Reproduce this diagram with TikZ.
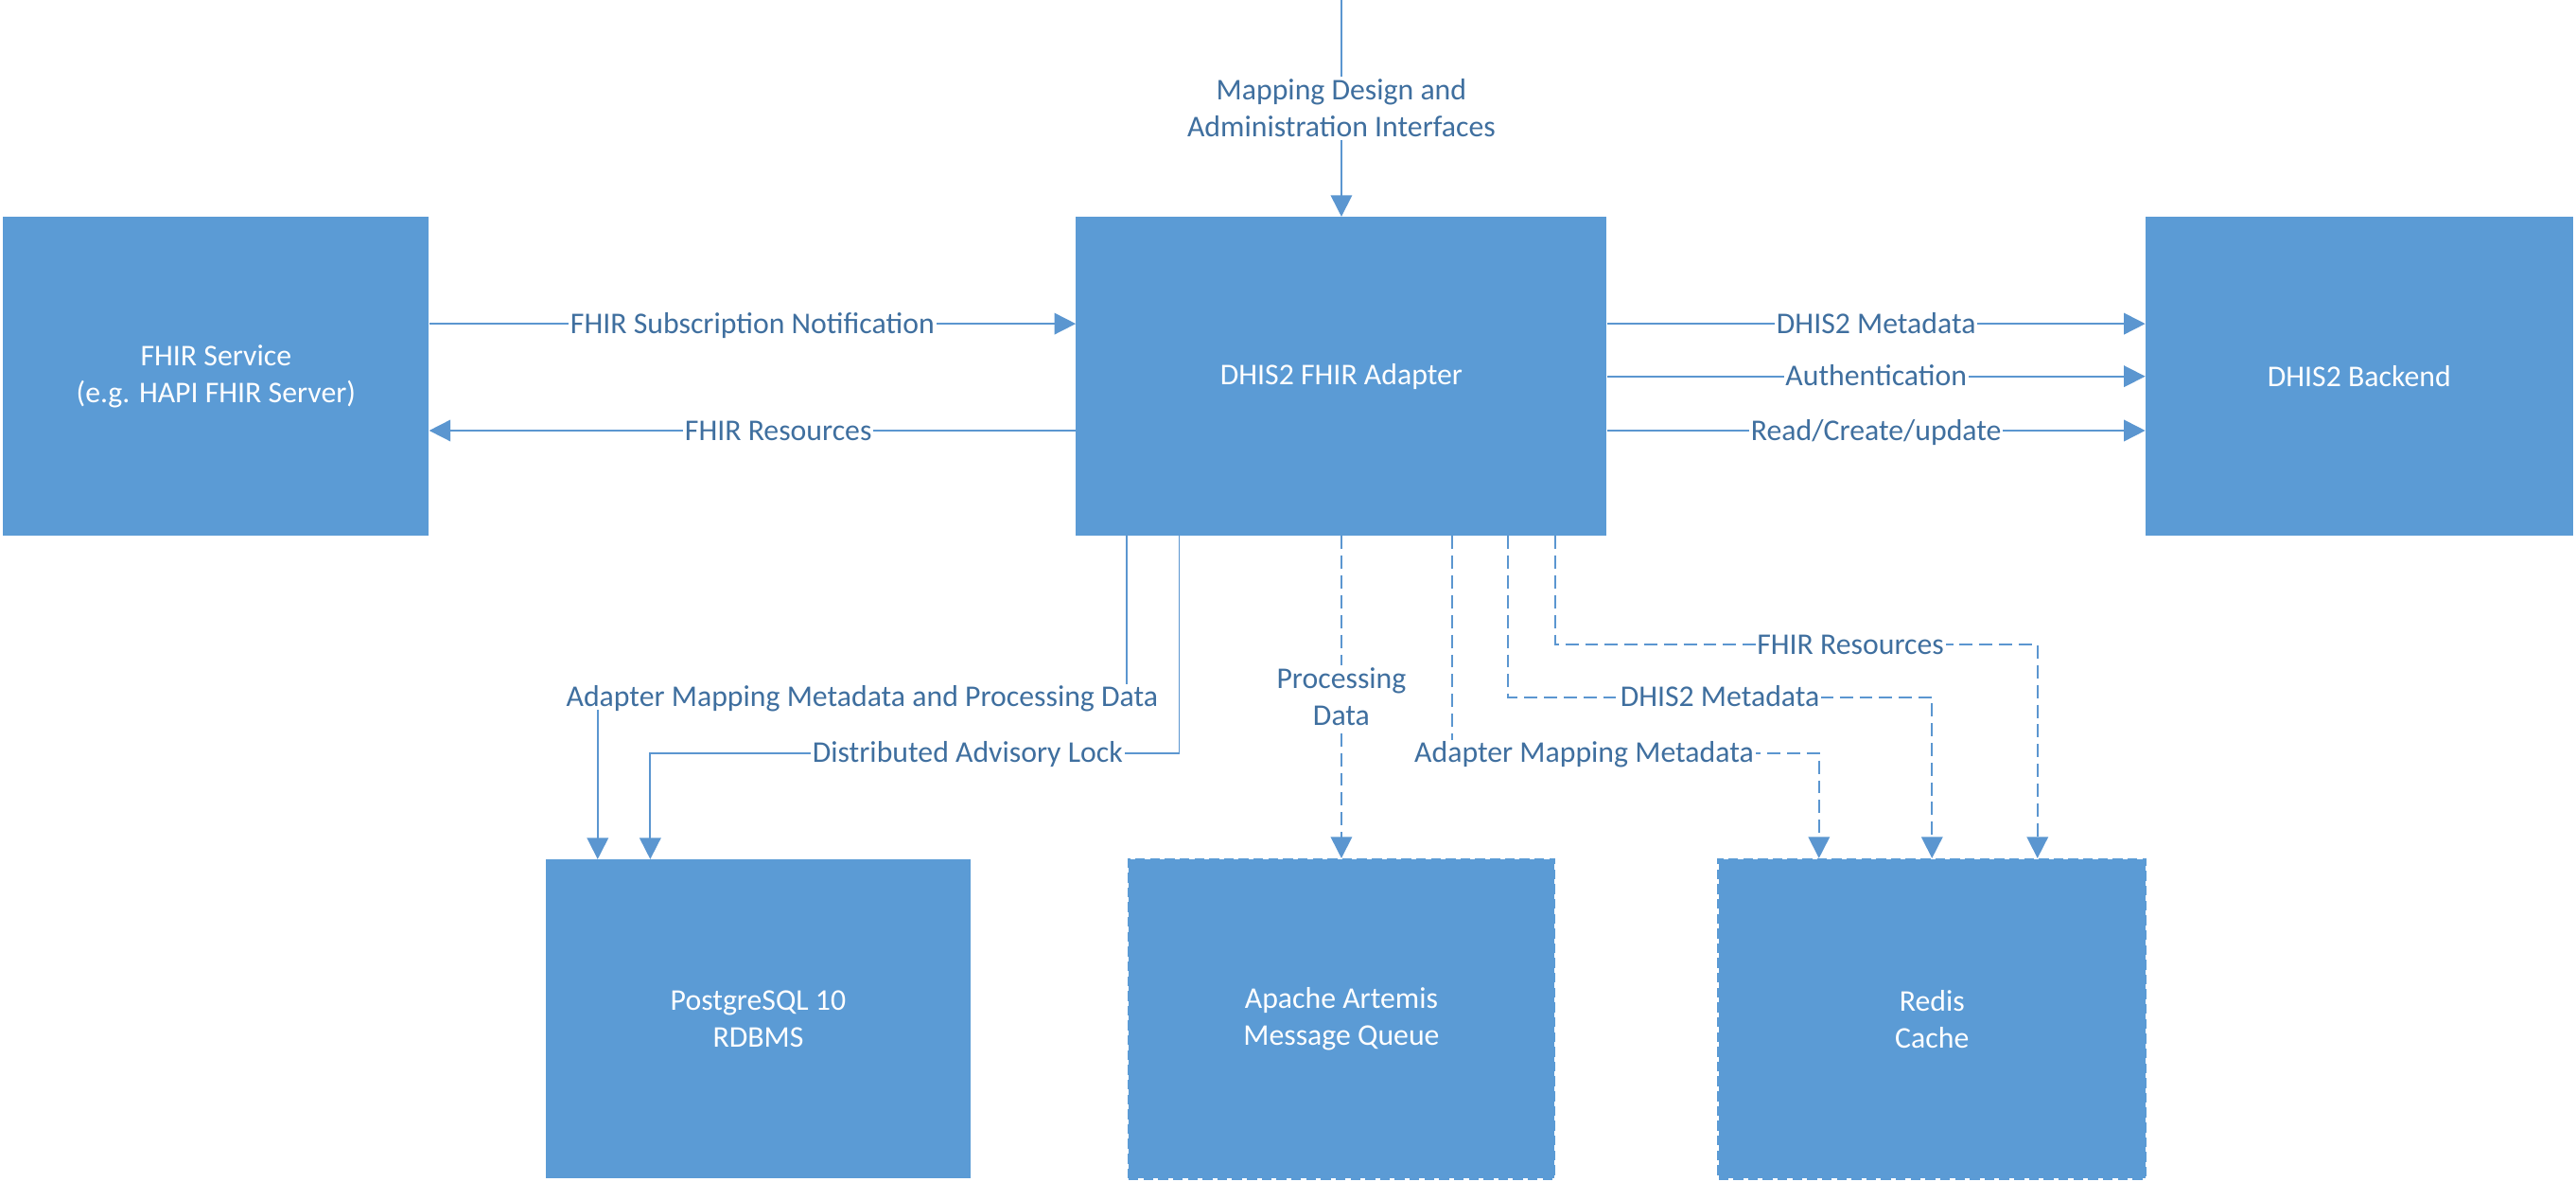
\documentclass[tikz,border=0pt]{standalone}
\usepackage{fontspec}
\setmainfont{Carlito}
\usetikzlibrary{arrows.meta}
\definecolor{boxblue}{HTML}{5B9BD5}
\definecolor{lineblue}{HTML}{5B96D0}
\definecolor{txtblue}{HTML}{3F6F9F}
\begin{document}
\begin{tikzpicture}[x=1pt,y=-1pt,
  font=\fontsize{18.3}{22.5}\selectfont,
  box/.style={fill=boxblue, text=white, align=center, minimum width=#1,
    minimum height=194pt, inner sep=0pt, draw=none},
  dbox/.style={box=#1, draw=boxblue, line width=1.6pt, dash pattern=on 6pt off 3pt},
  conn/.style={draw=lineblue, line width=1pt,
    -{Triangle[length=13pt,width=13pt]}},
  dconn/.style={conn, dash pattern=on 8pt off 4pt},
  lab/.style={fill=white, text=txtblue, inner xsep=1pt, inner ysep=2pt,
    text height=11.8pt, text depth=0pt, align=center},
  mlab/.style={lab, text height=34.3pt}
]
\useasboundingbox (0,0) rectangle (1568,719);

% boxes
\node[box=259pt] (fhir) at (131.5,229) {FHIR Service\\(e.g. HAPI FHIR Server)};
\node[box=323pt] (adapter) at (816.5,229) {DHIS2 FHIR Adapter};
\node[box=260pt] (backend) at (1436,229) {DHIS2 Backend};
\node[box=259pt] (pg) at (461.5,620) {PostgreSQL 10\\RDBMS};
\node[dbox=259pt] (artemis) at (816.5,620) {Apache Artemis\\Message Queue};
\node[dbox=260pt] (redis) at (1176,620) {Redis\\Cache};

% top interface
\coordinate (topin) at (816.5,0);
\draw[conn] (topin) -- node[mlab, pos=0.5] {Mapping Design and\\Administration Interfaces} (adapter.north);

% FHIR service <-> adapter
\draw[conn] ([yshift=32pt]fhir.east) -- node[lab] {FHIR Subscription Notification} ([yshift=32pt]adapter.west);
\draw[conn] ([yshift=-33pt]adapter.west) -- node[lab, pos=0.46] {FHIR Resources} ([yshift=-33pt]fhir.east);

% adapter -> backend
\draw[conn] ([yshift=32pt]adapter.east) -- node[lab] {DHIS2 Metadata} ([yshift=32pt]backend.west);
\draw[conn] (adapter.east) -- node[lab] {Authentication} (backend.west);
\draw[conn] ([yshift=-33pt]adapter.east) -- node[lab] {Read/Create/update} ([yshift=-33pt]backend.west);

% adapter -> postgres
\draw[conn] ([xshift=31pt]adapter.south west) -- ++(0,98)
  -| node[lab, pos=0.25] {Adapter Mapping Metadata and Processing Data} ([xshift=32pt]pg.north west);
\draw[conn] ([xshift=63pt]adapter.south west) -- ++(0,132)
  -| node[lab, pos=0.2] {Distributed Advisory Lock} ([xshift=64pt]pg.north west);

% adapter -> artemis
\draw[dconn] (adapter.south) -- node[mlab] {Processing\\Data} (artemis.north);

% adapter -> redis
\draw[dconn] ([xshift=229pt]adapter.south west) -- ++(0,132)
  -| node[lab, pos=0.18] {Adapter Mapping Metadata} ([xshift=62pt]redis.north west);
\draw[dconn] ([xshift=263pt]adapter.south west) -- ++(0,98)
  -| node[lab, pos=0.25] {DHIS2 Metadata} (redis.north);
\draw[dconn] ([xshift=292pt]adapter.south west) -- ++(0,66)
  -| node[lab, pos=0.306] {FHIR Resources} ([xshift=195pt]redis.north west);
\end{tikzpicture}
\end{document}
